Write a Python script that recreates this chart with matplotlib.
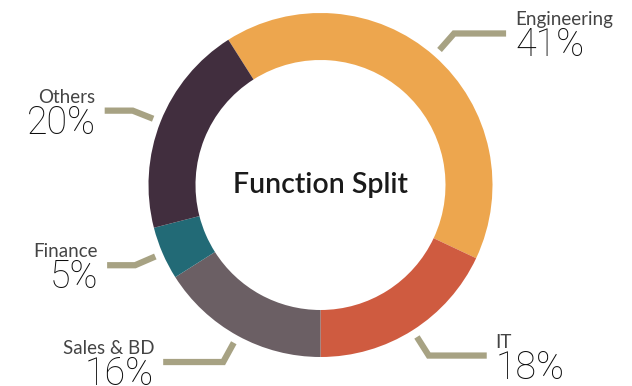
import numpy as np
import matplotlib
matplotlib.use("Agg")
import matplotlib.pyplot as plt

labels = ["Engineering", "IT", "Sales & BD", "Finance", "Others"]
shares = [41, 18, 16, 5, 20]
colors = ["#EDA64E", "#CF5B40", "#6B5F64", "#226A76", "#412E3E"]
title = "Function Split"

W, H = 632, 386
cx, cy = 320.5, 201
radius = 172
ring = 47
start = 122.4

# label side and horizontal leader length
sides = [1, 1, -1, -1, -1]
arm = [52, 58, 60, 28, 28]
leader_col = "#A7A283"

fig = plt.figure(figsize=(W / 100, H / 100), dpi=100)
ax = fig.add_axes([0, 0, 1, 1])

wedges, _ = ax.pie(
    shares,
    colors=colors,
    startangle=start,
    counterclock=False,
    radius=radius,
    center=(cx, cy),
    wedgeprops=dict(width=ring, linewidth=0),
    frame=True,
)
ax.set_xlim(0, W)
ax.set_ylim(0, H)
ax.set_aspect("equal")
ax.axis("off")

for w, name, val, side, a in zip(wedges, labels, shares, sides, arm):
    mid = np.deg2rad((w.theta1 + w.theta2) / 2)
    x0, y0 = cx + 180 * np.cos(mid), cy + 180 * np.sin(mid)
    x1, y1 = cx + 202 * np.cos(mid), cy + 202 * np.sin(mid)
    x2 = x1 + side * a
    ax.plot([x0, x1, x2], [y0, y1, y1], color=leader_col, lw=4.5,
            solid_capstyle="butt", solid_joinstyle="miter")
    tx = x2 + side * 9
    ha = "left" if side > 0 else "right"
    ax.text(tx, y1 + 8, name, ha=ha, va="baseline", fontsize=13.5,
            family="Lato", color="#444444")
    ax.text(tx, y1 - 23, f"{val}%", ha=ha, va="baseline", fontsize=27,
            family="Roboto", fontweight="light", color="#0d0d0d")

ax.text(cx, cy, title, ha="center", va="center", fontsize=20.5,
        family="Lato", fontweight="semibold", color="#1a1a1a")

fig.savefig("out.png", dpi=100)
